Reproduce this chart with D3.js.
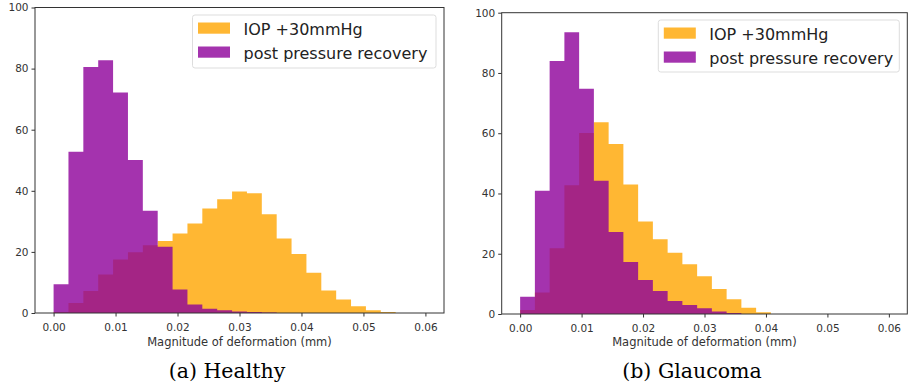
<!DOCTYPE html>
<html>
<head>
<meta charset="utf-8">
<script src="https://cdn.jsdelivr.net/npm/d3@7"></script>
<style>
  body { margin: 0; background: #fff; }
  svg { display: block; }
</style>
</head>
<body>
<div id="chart"></div>
<script>
// histogram bins: 25 equal bins over [0, 0.06] mm, density-normalised
const binRange = [0, 0.06];
const binCount = 25;
const xTicks = [0, 0.01, 0.02, 0.03, 0.04, 0.05, 0.06];
const yTicks = [0, 20, 40, 60, 80, 100];
const seriesNames = ['IOP +30mmHg', 'post pressure recovery'];

const healthyIop = [0.3, 3.3, 7.2, 12.6, 17.5, 19.9, 22.2, 23.6, 26.0, 29.3, 34.2, 37.2, 39.8,
  39.2, 32.3, 24.4, 19.3, 13.2, 7.4, 4.4, 2.2, 0.9, 0.3, 0, 0];
const healthyPost = [9.4, 52.8, 80.5, 82.7, 72.2, 50.1, 33.5, 21.7, 7.7, 2.8, 1.4, 0.9, 0.5,
  0.3, 0.2, 0, 0, 0, 0, 0, 0, 0, 0, 0, 0];
const glaucomaIop = [1.3, 7.1, 21.8, 42.7, 60.1, 63.6, 56.4, 43.0, 30.7, 24.8, 20.3, 16.5, 12.5,
  8.3, 4.9, 2.1, 0.6, 0, 0, 0, 0, 0, 0, 0, 0];
const glaucomaPost = [5.7, 40.9, 84.0, 93.5, 74.8, 44.2, 27.2, 17.3, 11.3, 7.6, 4.3, 3.0, 1.9,
  0.8, 0.3, 0, 0, 0, 0, 0, 0, 0, 0, 0, 0];

const colors = ['#FFA500', '#8D009A'];
const binWidth = (binRange[1] - binRange[0]) / binCount;

const svg = d3.select('#chart').append('svg')
  .attr('width', 908)
  .attr('height', 389);

const panels = [
  { caption: '(a) Healthy', series: [healthyIop, healthyPost],
    left: 35, right: 444, top: 7.5, bottom: 313, captionX: 227,
    legend: { x: 192.5, y: 15, w: 243.5, h: 53 } },
  { caption: '(b) Glaucoma', series: [glaucomaIop, glaucomaPost],
    left: 501.7, right: 907.3, top: 12.7, bottom: 314, captionX: 692,
    legend: { x: 658.3, y: 20, w: 241, h: 52 } }
];

panels.forEach(p => {
  const pad = (binRange[1] - binRange[0]) * 0.05;
  const x = d3.scaleLinear()
    .domain([binRange[0] - pad, binRange[1] + pad])
    .range([p.left, p.right]);
  const y = d3.scaleLinear()
    .domain([0, 100])
    .range([p.bottom, p.top]);

  const g = svg.append('g');

  // bars as one stepped area per series (no seams between bins)
  const area = d3.area()
    .curve(d3.curveStepAfter)
    .x(d => x(d.x0))
    .y0(y(0))
    .y1(d => y(d.v));

  p.series.forEach((vals, si) => {
    const pts = vals.map((v, i) => ({ x0: binRange[0] + i * binWidth, v: v }));
    pts.push({ x0: binRange[1], v: vals[vals.length - 1] });
    g.append('path')
      .datum(pts)
      .attr('d', area)
      .attr('fill', colors[si])
      .attr('fill-opacity', 0.8);
  });

  // axes
  const xAxis = g.append('g')
    .attr('transform', `translate(0,${p.bottom})`)
    .call(d3.axisBottom(x).tickValues(xTicks).tickFormat(d3.format('.2f')).tickSize(3.5).tickSizeOuter(0));
  const yAxis = g.append('g')
    .attr('transform', `translate(${p.left},0)`)
    .call(d3.axisLeft(y).tickValues(yTicks).tickSize(3.5).tickSizeOuter(0));

  [xAxis, yAxis].forEach(a => {
    a.select('.domain').remove();
    a.selectAll('line').attr('stroke', '#333');
    a.selectAll('text')
      .attr('fill', '#333')
      .style('font-family', 'DejaVu Sans')
      .style('font-size', '10.5px');
  });
  xAxis.selectAll('text').attr('dy', '1.05em');

  // frame
  g.append('rect')
    .attr('x', p.left)
    .attr('y', p.top)
    .attr('width', p.right - p.left)
    .attr('height', p.bottom - p.top)
    .attr('fill', 'none')
    .attr('stroke', '#333')
    .attr('stroke-width', 1);

  // x label
  g.append('text')
    .attr('x', (p.left + p.right) / 2)
    .attr('y', 346)
    .attr('text-anchor', 'middle')
    .attr('fill', '#333')
    .style('font-family', 'DejaVu Sans')
    .style('font-size', '11.5px')
    .text('Magnitude of deformation (mm)');

  // legend
  const L = p.legend;
  const lg = g.append('g');
  lg.append('rect')
    .attr('x', L.x)
    .attr('y', L.y)
    .attr('width', L.w)
    .attr('height', L.h)
    .attr('rx', 2.5)
    .attr('fill', '#fff')
    .attr('fill-opacity', 0.8)
    .attr('stroke', '#ddd');
  seriesNames.forEach((name, i) => {
    lg.append('rect')
      .attr('x', L.x + 5.5)
      .attr('y', L.y + 7.5 + i * 24)
      .attr('width', 32)
      .attr('height', 11.2)
      .attr('fill', colors[i])
      .attr('fill-opacity', 0.8);
    lg.append('text')
      .attr('x', L.x + 51)
      .attr('y', L.y + 19.5 + i * 24)
      .attr('fill', '#222')
      .style('font-family', 'DejaVu Sans')
      .style('font-size', '16px')
      .text(name);
  });

  // caption
  svg.append('text')
    .attr('x', p.captionX)
    .attr('y', 378)
    .attr('text-anchor', 'middle')
    .attr('fill', '#000')
    .style('font-family', 'DejaVu Serif')
    .style('font-size', '20.5px')
    .text(p.caption);
});
</script>
</body>
</html>
